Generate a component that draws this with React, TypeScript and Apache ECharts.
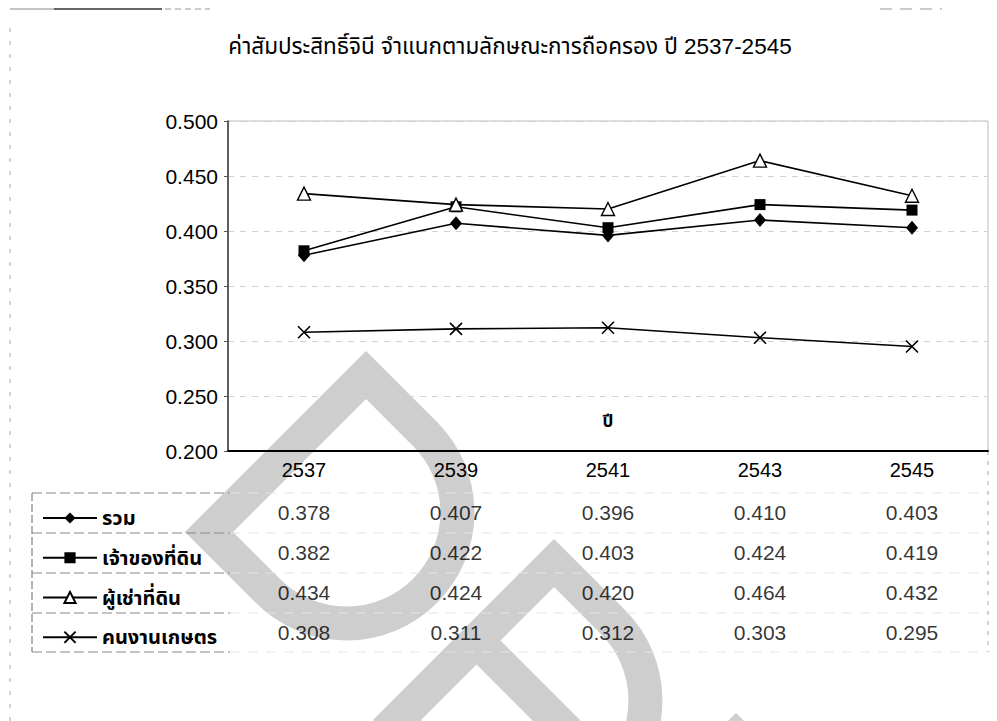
import React, { useEffect, useRef } from 'react';
import * as echarts from 'echarts';

// ---------- data ----------
const years = ['2537', '2539', '2541', '2543', '2545'];
const seriesNames = ['รวม', 'เจ้าของที่ดิน', 'ผู้เช่าที่ดิน', 'คนงานเกษตร'];
const totalValues = [0.378, 0.407, 0.396, 0.41, 0.403];
const ownerValues = [0.382, 0.422, 0.403, 0.424, 0.419];
const tenantValues = [0.434, 0.424, 0.42, 0.464, 0.432];
const workerValues = [0.308, 0.311, 0.312, 0.303, 0.295];
const yMin = 0.2;
const yMax = 0.5;
const yStep = 0.05;
const titleText = 'ค่าสัมประสิทธิ์จินี จำแนกตามลักษณะการถือครอง ปี 2537-2545';
const xAxisTitle = 'ปี';

// watermark shape (rotated "D" outline)
const wmPath = 'M0 0L-157 157L-98 216A111 111 0 0 0 59 59Z';
echarts.graphic.registerShape('wmDrop', (echarts.graphic as any).extendPath(wmPath, {}));

const NUM_FONT = "'Liberation Sans', Arial, Helvetica, sans-serif";
const THAI_FONT = "'Liberation Sans', Arial, 'Noto Sans Thai', 'Noto Sans', 'DejaVu Sans', sans-serif";

export default function App() {
  const ref = useRef<HTMLDivElement>(null);
  useEffect(() => {
    const el = ref.current!;
    const chart = echarts.init(el, undefined, { renderer: 'svg' });

    const lineData = [totalValues, ownerValues, tenantValues, workerValues];
    const symbols = ['diamond', 'rect', 'triangle', 'path://M0 0L10 10M10 0L0 10'];
    const symbolSizes: any[] = [[12, 14], 11, 13, 12];
    const itemStyles = [
      { color: '#000', borderColor: '#000', borderWidth: 0 },
      { color: '#000', borderColor: '#000', borderWidth: 0 },
      { color: '#fff', borderColor: '#000', borderWidth: 1.4 },
      { color: 'none', borderColor: '#000', borderWidth: 1.6 },
    ];

    const lineSeries = seriesNames.map((name, i) => ({
      name,
      type: 'line',
      xAxisIndex: 0,
      yAxisIndex: 0,
      data: lineData[i],
      symbol: symbols[i],
      symbolSize: symbolSizes[i],
      showAllSymbol: true,
      lineStyle: { color: '#000', width: 1.6 },
      itemStyle: itemStyles[i],
      z: 5 + i,
    }));

    const tableData: any[] = [];
    lineData.forEach((arr, r) => arr.forEach((v, c) => tableData.push([c, r, v])));

    const wmStyle = { fill: 'none', stroke: '#cecece', lineWidth: 34, lineJoin: 'miter' };

    const option: any = {
      animation: false,
      backgroundColor: '#ffffff',
      textStyle: { fontFamily: NUM_FONT },
      grid: [
        { left: 228, right: 9, top: 121, bottom: 270, show: true, borderColor: '#bdbdbd', borderWidth: 1, backgroundColor: 'transparent' },
        { left: 228, right: 9, top: 493, bottom: 69, show: false },
      ],
      xAxis: [
        {
          type: 'category',
          gridIndex: 0,
          data: years,
          boundaryGap: true,
          axisLine: { show: true, lineStyle: { color: '#000', width: 2 } },
          axisTick: { show: false },
          axisLabel: { color: '#000', fontSize: 20, margin: 9, fontFamily: NUM_FONT },
          splitLine: { show: false },
          name: xAxisTitle,
          nameLocation: 'middle',
          nameGap: -30,
          nameTextStyle: { color: '#000', fontSize: 17, fontWeight: 'bold', fontFamily: THAI_FONT, verticalAlign: 'middle' },
        },
        {
          type: 'category',
          gridIndex: 1,
          data: years,
          boundaryGap: true,
          show: false,
        },
      ],
      yAxis: [
        {
          type: 'value',
          gridIndex: 0,
          min: yMin,
          max: yMax,
          interval: yStep,
          axisLine: { show: true, lineStyle: { color: '#333', width: 1.5 } },
          axisTick: { show: true, inside: false, length: 4, lineStyle: { color: '#555' } },
          axisLabel: { color: '#000', fontSize: 21, margin: 10, fontFamily: NUM_FONT, formatter: (v: number) => v.toFixed(3) },
          splitLine: { show: true, lineStyle: { color: '#d2d2d2', type: [6, 6], width: 1 } },
        },
        {
          type: 'category',
          gridIndex: 1,
          data: seriesNames,
          inverse: true,
          show: false,
        },
      ],
      legend: {
        orient: 'vertical',
        left: 37,
        top: 503,
        itemWidth: 54,
        itemHeight: 14,
        itemGap: 19.75,
        textStyle: { color: '#000', fontSize: 20, fontWeight: 'bold', fontFamily: THAI_FONT },
        data: seriesNames,
        selectedMode: false,
      },
      series: [
        ...lineSeries,
        {
          name: 'table',
          type: 'scatter',
          xAxisIndex: 1,
          yAxisIndex: 1,
          data: tableData,
          symbolSize: 1,
          itemStyle: { color: 'rgba(0,0,0,0)' },
          silent: true,
          label: {
            show: true,
            position: 'inside',
            color: '#000',
            fontSize: 21,
            fontFamily: NUM_FONT,
            formatter: (p: any) => Number(p.value[2]).toFixed(3),
          },
          z: 10,
        },
      ],
      graphic: {
        elements: [
          // watermark
          { type: 'wmDrop', x: 366, y: 375, style: wmStyle, silent: true, z: -10 },
          { type: 'wmDrop', x: 554, y: 563, style: wmStyle, silent: true, z: -10 },
          { type: 'wmDrop', x: 736, y: 737, style: wmStyle, silent: true, z: -10 },
          { type: 'line', shape: { x1: 477, y1: 641, x2: 570, y2: 734 }, style: { stroke: '#cecece', lineWidth: 34 }, silent: true, z: -10 },
          // title
          {
            type: 'text',
            x: 510,
            y: 46,
            style: {
              text: titleText,
              fill: '#000',
              font: `normal 22.5px ${THAI_FONT}`,
              textAlign: 'center',
              textVerticalAlign: 'middle',
            },
            z: 10,
          },
          // page scan edges
          { type: 'line', shape: { x1: 10, y1: 9, x2: 54, y2: 9 }, style: { stroke: '#888', lineWidth: 1 }, silent: true },
          { type: 'line', shape: { x1: 54, y1: 9, x2: 162, y2: 9 }, style: { stroke: '#333', lineWidth: 1.5 }, silent: true },
          { type: 'line', shape: { x1: 165, y1: 9, x2: 210, y2: 9 }, style: { stroke: '#999', lineWidth: 1, lineDash: [6, 4] }, silent: true },
          { type: 'line', shape: { x1: 880, y1: 9, x2: 942, y2: 9 }, style: { stroke: '#999', lineWidth: 1, lineDash: [12, 8] }, silent: true },
          { type: 'line', shape: { x1: 10, y1: 28, x2: 10, y2: 721 }, style: { stroke: '#aaa', lineWidth: 1, lineDash: [4, 9] }, silent: true },
          // data table borders (legend column)
          { type: 'line', shape: { x1: 32, y1: 493, x2: 32, y2: 652 }, style: { stroke: '#666', lineWidth: 1, lineDash: [8, 3] }, silent: true },
          ...[493, 533, 573, 613, 652].map((yy) => ({
            type: 'line',
            shape: { x1: 32, y1: yy, x2: 230, y2: yy },
            style: { stroke: '#888', lineWidth: 1, lineDash: [10, 4] },
            silent: true,
          })),
          ...[493, 533, 573, 613, 652].map((yy) => ({
            type: 'line',
            shape: { x1: 230, y1: yy, x2: 988, y2: yy },
            style: { stroke: '#e4e4e4', lineWidth: 1, lineDash: [10, 8] },
            silent: true,
          })),
          { type: 'line', shape: { x1: 988, y1: 451, x2: 988, y2: 652 }, style: { stroke: '#aaa', lineWidth: 1, lineDash: [4, 6] }, silent: true },
        ],
      },
    };

    chart.setOption(option);
    return () => chart.dispose();
  }, []);
  return (
    <div
      ref={ref}
      style={{ position: 'fixed', left: 0, top: 0, width: 997, height: 721, background: '#fff' }}
    />
  );
}
